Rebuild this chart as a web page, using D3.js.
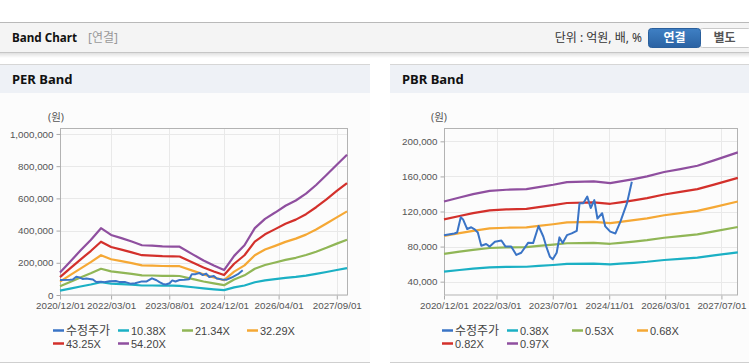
<!DOCTYPE html>
<html><head><meta charset="utf-8">
<script src="https://cdn.jsdelivr.net/npm/d3@7/dist/d3.min.js"></script>
<style>body{margin:0;background:#fff}svg{display:block}</style>
</head><body><svg id="c" width="749" height="364"></svg>
<script>
// ---------- data ----------
const seriesColors = ["#3a74c6", "#1bb0c4", "#90b656", "#f5a835", "#d3302b", "#8f4f9f"];

const priceDates = ["2020-12-01","2021-03-01","2021-03-25","2021-04-25","2021-05-15","2021-06-20","2021-07-25","2021-08-20","2021-09-20","2021-10-20","2021-12-01","2022-01-01","2022-02-15","2022-04-12","2022-05-18","2022-07-06","2022-08-20","2022-10-01","2022-12-01","2023-01-12","2023-02-28","2023-04-10","2023-05-06","2023-06-06","2023-07-01","2023-08-04","2023-08-28","2023-09-25","2023-11-01","2023-12-12","2024-01-25","2024-02-18","2024-03-22","2024-04-25","2024-05-25","2024-06-25","2024-07-22","2024-09-01","2024-09-28","2024-11-10","2024-12-25","2025-02-06","2025-04-04","2025-05-16"];
const priceValues = [93000,95000,96000,113500,111000,100000,102000,100000,96000,81000,83000,80000,85500,87000,80000,80000,70500,73000,84500,84000,103500,91500,80000,68500,65500,73000,90500,84000,93000,95000,98000,129500,129500,137000,124000,133000,112000,118000,103000,97000,95000,108500,129500,154000];

const perDates = ["2020-12-01","2021-03-01","2021-06-01","2021-09-01","2021-12-01","2022-03-01","2022-06-01","2022-09-01","2022-12-01","2023-03-01","2023-06-01","2023-09-01","2023-11-01","2024-03-01","2024-06-01","2024-09-01","2024-12-01","2025-03-01","2025-06-01","2025-09-01","2025-12-01","2026-03-01","2026-06-01","2026-09-01","2026-12-01","2027-03-01","2027-06-01","2027-09-01","2027-12-01"];
const per1038 = [27000,40000,53000,65000,79000,71000,68000,64000,59000,59000,58000,58000,57000,48000,41000,35000,30000,47000,59000,79000,91000,98000,106000,112000,120000,131000,143000,155000,167000];
const per2134 = [55000,81000,109000,135000,163000,147000,139000,131000,122000,121000,119000,119000,118000,99000,84000,72000,61000,96000,122000,163000,186000,202000,218000,231000,248000,269000,293000,319000,343000];
const per3229 = [83000,123000,164000,204000,247000,222000,210000,198000,184000,183000,180000,179000,179000,150000,128000,109000,92000,145000,184000,247000,282000,305000,330000,350000,375000,407000,444000,482000,519000];
const per4325 = [111000,165000,220000,273000,331000,298000,282000,265000,247000,245000,241000,240000,239000,200000,171000,146000,124000,194000,247000,331000,377000,409000,442000,468000,502000,545000,594000,646000,695000];
const per5420 = [139000,207000,276000,342000,415000,373000,353000,332000,309000,307000,302000,301000,300000,251000,214000,183000,155000,243000,309000,415000,473000,512000,554000,587000,629000,683000,745000,809000,871000];
const perLegend = ["수정주가","10.38X","21.34X","32.29X","43.25X","54.20X"];
const perXTicks = ["2020/12/01","2022/03/01","2023/08/01","2024/12/01","2026/04/01","2027/09/01"];
const perYTicks = [0,200000,400000,600000,800000,1000000];

const pbrDates = ["2020-12-01","2021-04-15","2021-08-10","2022-01-01","2022-05-25","2022-11-15","2023-03-01","2023-07-05","2023-11-01","2024-06-20","2024-11-10","2025-02-06","2025-06-01","2025-09-25","2026-02-20","2026-07-10","2026-12-05","2027-04-28","2027-11-20"];
const pbr038 = [51500,53300,54800,56300,56800,57000,57900,59000,60200,60500,59700,60500,61500,62700,64700,66000,67500,69900,73500];
const pbr053 = [71700,74300,76300,78400,79100,79400,80700,82200,83800,84200,83200,84200,85700,87400,90100,91900,94000,97400,102300];
const pbr068 = [92100,95300,98000,100700,101500,102000,103600,105500,107600,108200,106800,108200,110100,112200,115700,118100,120700,125000,131400];
const pbr082 = [111000,114900,118100,121300,122400,122900,124900,127200,129700,130400,128800,130400,132700,135200,139400,142300,145500,150700,158400];
const pbr097 = [131400,136000,139800,143600,144800,145500,147800,150500,153500,154300,152400,154300,157000,160000,165000,168400,172200,178300,187400];
const pbrLegend = ["수정주가","0.38X","0.53X","0.68X","0.82X","0.97X"];
const pbrXTicks = ["2020/12/01","2022/03/01","2023/07/01","2024/11/01","2026/03/01","2027/07/01"];
const pbrYTicks = [40000,80000,120000,160000,200000];

// ---------- drawing ----------
const svg = d3.select("#c");
const FONT = "'Liberation Sans', Arial, 'Noto Sans CJK KR', sans-serif";
const KFONT = "'Noto Sans', 'Noto Sans CJK KR', sans-serif";
const parse = d3.timeParse("%Y-%m-%d");
const parseTick = d3.timeParse("%Y/%m/%d");

const defs = svg.append("defs");
const sh = defs.append("linearGradient").attr("id","shadow").attr("x1",0).attr("y1",0).attr("x2",0).attr("y2",1);
sh.append("stop").attr("offset",0).attr("stop-color","#000").attr("stop-opacity",0.12);
sh.append("stop").attr("offset",1).attr("stop-color","#000").attr("stop-opacity",0);
const bg = defs.append("linearGradient").attr("id","btn").attr("x1",0).attr("y1",0).attr("x2",0).attr("y2",1);
bg.append("stop").attr("offset",0).attr("stop-color","#3f80c4");
bg.append("stop").attr("offset",1).attr("stop-color","#2a62a3");

// header bar
svg.append("rect").attr("x",0).attr("y",22).attr("width",749).attr("height",30).attr("fill","#f4f4f4");
svg.append("line").attr("x1",0).attr("x2",749).attr("y1",22.5).attr("y2",22.5).attr("stroke","#b9b9b9");
svg.append("line").attr("x1",0).attr("x2",749).attr("y1",52.5).attr("y2",52.5).attr("stroke","#c6c6c6");
svg.append("rect").attr("x",0).attr("y",53).attr("width",749).attr("height",5).attr("fill","url(#shadow)");
svg.append("text").attr("x",12).attr("y",42).attr("font-family",KFONT).attr("font-size",13).attr("font-weight","bold")
  .attr("fill","#111").attr("textLength",65).attr("lengthAdjust","spacingAndGlyphs").text("Band Chart");
svg.append("text").attr("x",88).attr("y",42).attr("font-family",KFONT).attr("font-size",12).attr("fill","#999").text("[연결]");
svg.append("text").attr("x",642).attr("y",42).attr("text-anchor","end").attr("font-family",KFONT).attr("font-size",12)
  .attr("fill","#333").text("단위 : 억원, 배, %");
svg.append("rect").attr("x",699.5).attr("y",28.5).attr("width",52).attr("height",19).attr("rx",3).attr("fill","#fff").attr("stroke","#c9c9c9");
svg.append("rect").attr("x",648.5).attr("y",28.5).attr("width",52).attr("height",19).attr("rx",3).attr("fill","url(#btn)").attr("stroke","#2a5f9c");
svg.append("text").attr("x",674.5).attr("y",42).attr("text-anchor","middle").attr("font-family",KFONT).attr("font-size",12)
  .attr("font-weight","bold").attr("fill","#fff").text("연결");
svg.append("text").attr("x",724.5).attr("y",42).attr("text-anchor","middle").attr("font-family",KFONT).attr("font-size",12)
  .attr("font-weight","bold").attr("fill","#555").text("별도");

function panel(cfg) {
  const g = svg.append("g");
  g.append("rect").attr("x",cfg.px).attr("y",64).attr("width",cfg.pw).attr("height",298).attr("fill","#fcfcfc");
  g.append("rect").attr("x",cfg.px).attr("y",64).attr("width",cfg.pw).attr("height",29).attr("fill","#eef1f6");
  g.append("line").attr("x1",cfg.px).attr("x2",cfg.px+cfg.pw).attr("y1",64.5).attr("y2",64.5).attr("stroke","#d6d6d6");
  g.append("line").attr("x1",cfg.px).attr("x2",cfg.px+cfg.pw).attr("y1",362.5).attr("y2",362.5).attr("stroke","#cfcfcf");
  g.append("text").attr("x",cfg.px+12).attr("y",84).attr("font-family",KFONT).attr("font-size",13).attr("font-weight","bold")
    .attr("fill","#111").text(cfg.title);

  const x = d3.scaleTime().domain(cfg.xDomain.map(parse)).range([cfg.x0, cfg.x1]);
  const y = d3.scaleLinear().domain(cfg.yDomain).range([295, 128]);
  const xt = cfg.xTicks.map(parseTick);

  // grid
  g.append("g").selectAll("line").data(xt).join("line")
    .attr("x1",d=>Math.round(x(d))+0.5).attr("x2",d=>Math.round(x(d))+0.5).attr("y1",128).attr("y2",295).attr("stroke","#e9e9e9");
  g.append("g").selectAll("line").data(cfg.yTicks).join("line")
    .attr("x1",cfg.x0).attr("x2",cfg.x1).attr("y1",d=>Math.round(y(d))+0.5).attr("y2",d=>Math.round(y(d))+0.5).attr("stroke","#e9e9e9");
  g.append("rect").attr("x",cfg.x0+0.5).attr("y",128.5).attr("width",cfg.x1-cfg.x0).attr("height",166.5)
    .attr("fill","none").attr("stroke","#b3b3b3");

  // axes
  const ya = g.append("g").attr("transform",`translate(${cfg.x0+0.5},0)`)
    .call(d3.axisLeft(y).tickValues(cfg.yTicks).tickFormat(d3.format(",")).tickSize(4).tickPadding(3));
  const xa = g.append("g").attr("transform",`translate(0,295.5)`)
    .call(d3.axisBottom(x).tickValues(xt).tickFormat(d3.timeFormat("%Y/%m/%d")).tickSize(4).tickPadding(3));
  [ya, xa].forEach(a => {
    a.select(".domain").remove();
    a.selectAll(".tick line").attr("stroke","#aaa");
    a.selectAll(".tick text").attr("fill","#555").attr("font-family",FONT).attr("font-size",9.8);
  });
  g.append("text").attr("x",cfg.unitX).attr("y",121).attr("text-anchor","middle").attr("font-family",KFONT)
    .attr("font-size",10.5).attr("fill","#555").text("(원)");

  // lines
  const line = d3.line().x(d=>x(d[0])).y(d=>y(d[1]));
  const bandDates = cfg.bandDates.map(parse);
  cfg.bands.forEach((vals, i) => {
    g.append("path").datum(vals.map((v,j)=>[bandDates[j], v])).attr("d", line)
      .attr("fill","none").attr("stroke", seriesColors[i+1]).attr("stroke-width",2.2).attr("stroke-linejoin","round");
  });
  g.append("path").datum(priceValues.map((v,j)=>[parse(priceDates[j]), v])).attr("d", line)
    .attr("fill","none").attr("stroke", seriesColors[0]).attr("stroke-width",2).attr("stroke-linejoin","round");

  // legend
  cfg.legend.forEach((lab, i) => {
    const lx = cfg.legX[i % 4], ly = i < 4 ? 330.5 : 343.5;
    g.append("line").attr("x1",lx).attr("x2",lx+11).attr("y1",ly).attr("y2",ly).attr("stroke",seriesColors[i]).attr("stroke-width",2.5);
    g.append("text").attr("x",lx+13).attr("y",ly+4).attr("font-family", i===0 ? KFONT : FONT)
      .attr("font-size", i===0 ? 12 : 11).attr("fill","#444").text(lab);
  });
}

panel({px:0, pw:370, title:"PER Band", x0:60, x1:347, xDomain:["2020-12-01","2027-12-01"], yDomain:[0,1037000],
  xTicks:perXTicks, yTicks:perYTicks, bandDates:perDates, bands:[per1038,per2134,per3229,per4325,per5420],
  legend:perLegend, legX:[53,118,182,247], unitX:56});
panel({px:390, pw:359, title:"PBR Band", x0:444, x1:737, xDomain:["2020-12-01","2027-11-13"], yDomain:[24800,215200],
  xTicks:pbrXTicks, yTicks:pbrYTicks, bandDates:pbrDates, bands:[pbr038,pbr053,pbr068,pbr082,pbr097],
  legend:pbrLegend, legX:[442,507,572,637], unitX:439});
</script></body></html>
